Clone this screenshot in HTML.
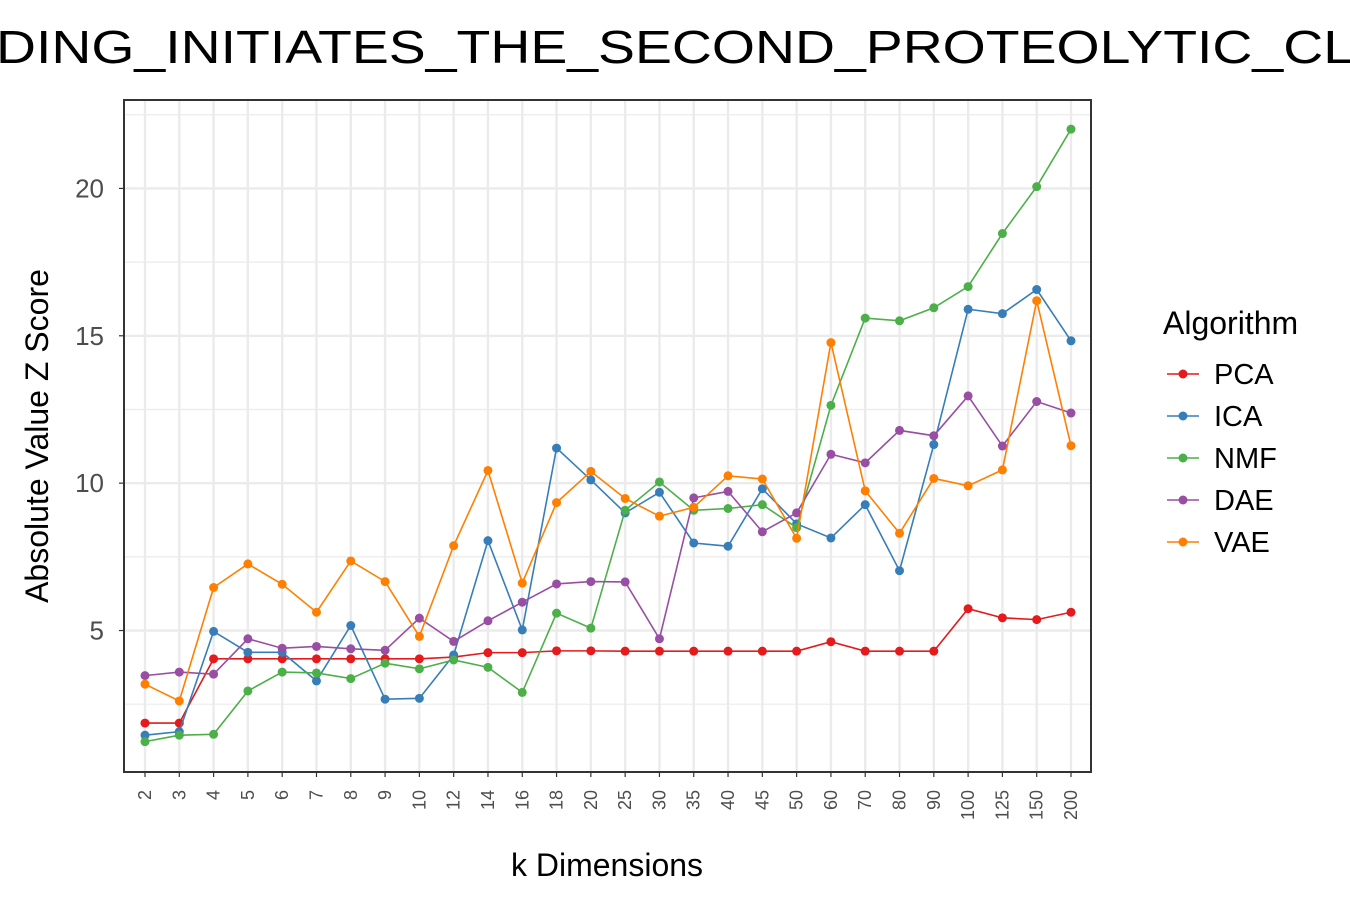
<!DOCTYPE html>
<html><head><meta charset="utf-8"><style>
body{margin:0;background:#fff;width:1350px;height:900px;overflow:hidden}
svg{display:block;font-family:"Liberation Sans",Arial,sans-serif}
</style></head><body>
<svg id="chart" width="1350" height="900"></svg>
<script>
const categories=["2","3","4","5","6","7","8","9","10","12","14","16","18","20","25","30","35","40","45","50","60","70","80","90","100","125","150","200"];
const pcaValues=[1.86,1.86,4.04,4.04,4.04,4.04,4.04,4.04,4.04,4.1,4.25,4.25,4.31,4.31,4.3,4.3,4.3,4.3,4.3,4.3,4.62,4.3,4.3,4.3,5.74,5.43,5.37,5.62];
const icaValues=[1.45,1.57,4.97,4.26,4.26,3.29,5.17,2.67,2.70,4.17,8.05,5.02,11.19,10.11,8.99,9.69,7.97,7.86,9.81,8.62,8.14,9.27,7.03,11.31,15.9,15.75,16.57,14.83];
const nmfValues=[1.23,1.45,1.48,2.95,3.59,3.56,3.37,3.89,3.70,4.0,3.75,2.90,5.59,5.08,9.08,10.04,9.08,9.14,9.27,8.49,12.64,15.6,15.51,15.95,16.67,18.47,20.06,22.01];
const daeValues=[3.47,3.59,3.52,4.72,4.40,4.46,4.38,4.33,5.42,4.63,5.33,5.96,6.58,6.66,6.65,4.72,9.5,9.72,8.35,8.99,10.98,10.69,11.79,11.61,12.96,11.26,12.77,12.38];
const vaeValues=[3.18,2.61,6.46,7.26,6.57,5.62,7.36,6.66,4.80,7.88,10.43,6.61,9.34,10.4,9.48,8.88,9.18,10.25,10.14,8.13,14.77,9.74,8.3,10.16,9.91,10.45,16.19,11.27];
const seriesNames=["PCA","ICA","NMF","DAE","VAE"];
const yTicks=[5,10,15,20];
const yMinorTicks=[2.5,7.5,12.5,17.5,22.5];

const colors=["#e41a1c","#377eb8","#4daf4a","#984ea3","#ff7f00"];
const allSeries=[pcaValues,icaValues,nmfValues,daeValues,vaeValues];
const L=124,R=1091,T=100,B=772,yMin=0.2,yMax=23.0;
const ns="http://www.w3.org/2000/svg";
const svg=document.getElementById('chart');
function xs(i){return 145+i*(1071-145)/(categories.length-1);}
function ys(v){return B-(v-yMin)/(yMax-yMin)*(B-T);}
function mk(tag,attrs,parent){const e=document.createElementNS(ns,tag);for(const k in attrs)e.setAttribute(k,attrs[k]);(parent||svg).appendChild(e);return e;}

const title=mk('text',{x:-4,y:63,'font-size':46,fill:'#000',textLength:1358,lengthAdjust:'spacingAndGlyphs'});


title.textContent="DING_INITIATES_THE_SECOND_PROTEOLYTIC_CL";

const grid=mk('g',{});


yMinorTicks.forEach(v=>{const y=ys(v);if(y>T&&y<B)mk('line',{x1:L,x2:R,y1:y,y2:y,stroke:'#ebebeb','stroke-width':1.2},grid);});
yTicks.forEach(v=>{const y=ys(v);mk('line',{x1:L,x2:R,y1:y,y2:y,stroke:'#ebebeb','stroke-width':2.4},grid);});
categories.forEach((c,i)=>{mk('line',{x1:xs(i),x2:xs(i),y1:T,y2:B,stroke:'#ebebeb','stroke-width':2.4},grid);});

yTicks.forEach(v=>{const y=ys(v);
 mk('line',{x1:L-5,x2:L,y1:y,y2:y,stroke:'#333','stroke-width':1.2});
 const t=mk('text',{x:L-20,y:y+9,'font-size':26,fill:'#4d4d4d','text-anchor':'end'});
 
 
 t.textContent=v;});
categories.forEach((c,i)=>{const x=xs(i);
 mk('line',{x1:x,x2:x,y1:B,y2:B+5,stroke:'#333','stroke-width':1.2});
 const t=mk('text',{x:0,y:0,'font-size':18,fill:'#4d4d4d','text-anchor':'end',transform:`translate(${x+6},${B+18}) rotate(-90)`});
 
 
 t.textContent=c;});

allSeries.forEach((vals,s)=>{
 const g=mk('g',{});
 
 
 mk('polyline',{points:vals.map((v,i)=>xs(i)+','+ys(v)).join(' '),fill:'none',stroke:colors[s],'stroke-width':1.6},g);
 vals.forEach((v,i)=>{const c=mk('circle',{cx:xs(i),cy:ys(v),r:4.5,fill:colors[s]},g);
  
  });
});

const border=mk('rect',{x:L,y:T,width:R-L,height:B-T,fill:'none',stroke:'#333','stroke-width':2});



const yt=mk('text',{x:0,y:0,'font-size':32,fill:'#000','text-anchor':'middle',transform:'translate(48,436) rotate(-90)'});


yt.textContent="Absolute Value Z Score";
const xt=mk('text',{x:607,y:876,'font-size':32,fill:'#000','text-anchor':'middle'});


xt.textContent="k Dimensions";

const lg=mk('g',{});


const lt=mk('text',{x:1163,y:334,'font-size':32,fill:'#000'},lg);


lt.textContent="Algorithm";
seriesNames.forEach((n,s)=>{const y=374+s*42;
 const e=mk('g',{},lg);
 
 
 mk('line',{x1:1167,x2:1199,y1:y,y2:y,stroke:colors[s],'stroke-width':1.6},e);
 mk('circle',{cx:1183,cy:y,r:4.5,fill:colors[s]},e);
 const t=mk('text',{x:1214,y:y+10,'font-size':29,fill:'#000'},e);
 t.textContent=n;});
</script>
</body></html>
